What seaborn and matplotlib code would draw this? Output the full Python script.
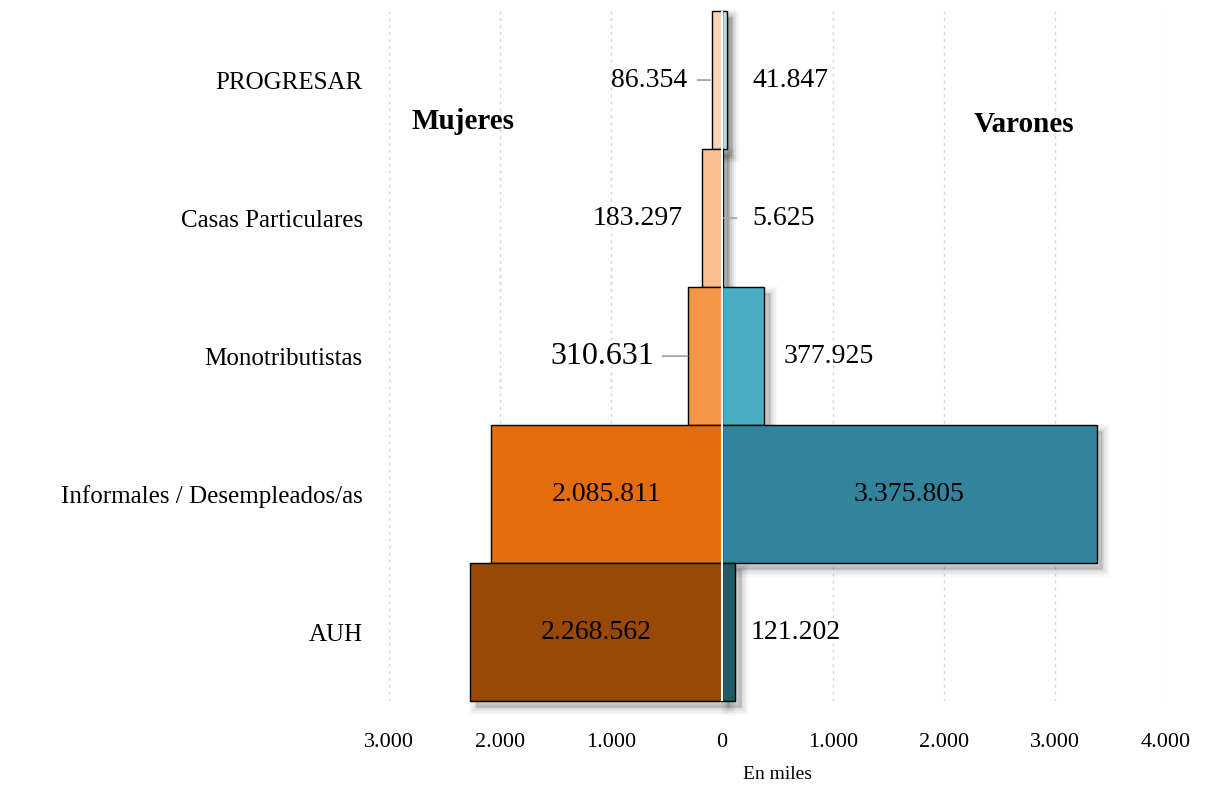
import matplotlib
matplotlib.use("Agg")
import pandas as pd
import matplotlib.pyplot as plt
import matplotlib.patheffects as pe
from matplotlib.ticker import FuncFormatter
import seaborn as sns

sns.set_style("white")
plt.rcParams['font.family'] = ['Liberation Serif', 'DejaVu Serif']
plt.rcParams['text.color'] = 'black'
plt.rcParams['xtick.color'] = 'black'
plt.rcParams['ytick.color'] = 'black'
plt.rcParams['axes.labelcolor'] = 'black'

# Datos
programas = ["PROGRESAR", "Casas Particulares", "Monotributistas",
             "Informales / Desempleados/as", "AUH"]
mujeres = [86354, 183297, 310631, 2085811, 2268562]
varones = [41847, 5625, 377925, 3375805, 121202]
colores_mujeres = ["#FCD5B5", "#FAC090", "#F79646", "#E46C0A", "#984807"]
colores_varones = ["#B7DEE8", "#93CDDD", "#4BACC6", "#31849B", "#215967"]

df_m = pd.DataFrame({"programa": programas, "valor": [-v for v in mujeres]})
df_v = pd.DataFrame({"programa": programas, "valor": varones})

fig = plt.figure(figsize=(12.12, 7.88), dpi=100)
ax = fig.add_axes([0.321, 0.110, 0.641, 0.876])

sns.barplot(data=df_m, y="programa", x="valor", hue="programa", palette=colores_mujeres,
            width=1.0, saturation=1, edgecolor="black", linewidth=1, legend=False, ax=ax)
sns.barplot(data=df_v, y="programa", x="valor", hue="programa", palette=colores_varones,
            width=1.0, saturation=1, edgecolor="black", linewidth=1, legend=False, ax=ax)

# sombra difusa
sombra = [pe.SimplePatchShadow(offset=(4, -4), shadow_rgbFace="black", alpha=a, linewidth=lw)
          for lw, a in [(11, 0.025), (8, 0.035), (5, 0.045), (2, 0.06)]] + [pe.Normal()]
for p in ax.patches:
    p.set_path_effects(sombra)
    p.set_clip_on(False)

ax.axvline(0, color="white", lw=1.5, zorder=5)

ax.set_xlim(-3000000, 4000000)
ax.set_ylim(4.5, -0.5)
ax.set_xticks(range(-3000000, 4000001, 1000000))
ax.xaxis.set_major_formatter(FuncFormatter(lambda v, _: f"{abs(v) / 1000:,.0f}".replace(",", ".")))
ax.xaxis.grid(True, linestyle=(0, (2, 3)), color="#d6d6d6", lw=1)
ax.set_axisbelow(True)
sns.despine(ax=ax, left=True, bottom=True)
ax.tick_params(axis="x", length=0, pad=23, labelsize=16)
ax.tick_params(axis="y", length=0, pad=19, labelsize=18)
ax.set_ylabel("")
ax.set_xlabel("En miles", fontsize=14, labelpad=10)


def fmt(v):
    return f"{v:,}".replace(",", ".")


linea = dict(arrowstyle="-", color="#a6a6a6", lw=1.3, shrinkA=0)

for i, (m, v) in enumerate(zip(mujeres, varones)):
    if m > 1000000:
        ax.text(-m / 2, i, fmt(m), ha="center", va="center", fontsize=20, zorder=6)
    else:
        off = {0: -25, 1: -19, 2: -33}[i]
        ax.annotate(fmt(m), xy=(-m, i), xytext=(off, 0), textcoords="offset pixels",
                    ha="right", va="center", fontsize=23 if i == 2 else 20, zorder=6)
    if v > 1000000:
        ax.text(v / 2, i, fmt(v), ha="center", va="center", fontsize=20, zorder=6)
    else:
        off = {0: 26, 1: 30, 2: 20, 4: 15}[i]
        ax.annotate(fmt(v), xy=(v, i), xytext=(off, 0), textcoords="offset pixels",
                    ha="left", va="center", fontsize=20, zorder=6)

# líneas guía
ax.annotate("", xy=(-mujeres[0], 0), xytext=(-15, 0), textcoords="offset pixels",
            arrowprops=dict(linea, shrinkB=1.4))
ax.annotate("", xy=(-mujeres[2], 2), xytext=(-25, 0), textcoords="offset pixels",
            arrowprops=dict(linea, shrinkB=0))
ax.annotate("", xy=(varones[1], 1), xytext=(14, 0), textcoords="offset pixels",
            arrowprops=dict(linea, shrinkB=1))

ax.text(-2800000, 0.3, "Mujeres", fontsize=21, fontweight="bold", ha="left", va="center")
ax.text(2270000, 0.32, "Varones", fontsize=21, fontweight="bold", ha="left", va="center")

fig.savefig("out.png", dpi=100)
